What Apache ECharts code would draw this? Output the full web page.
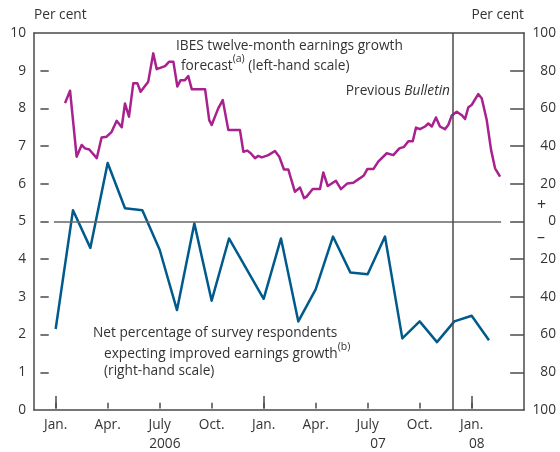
<!DOCTYPE html>
<html>
<head>
<meta charset="utf-8">
<script src="https://cdn.jsdelivr.net/npm/echarts@6/dist/echarts.min.js"></script>
<style>
  html, body { margin: 0; padding: 0; background: #fff; }
  #chart { width: 560px; height: 452px; }
</style>
</head>
<body>
<div id="chart"></div>
<script>
// x values are months counted from Jan. 2006 (0 = Jan. 2006)
const quarterTicks = [0, 3, 6, 9, 12, 15, 18, 21, 24]
const quarterLabels = ['Jan.', 'Apr.', 'July', 'Oct.', 'Jan.', 'Apr.', 'July', 'Oct.', 'Jan.']
const yearTicks = [0, 12, 24]
const yearLabelAt = [6.3, 18.6, 24.3]
const yearLabels = ['2006', '07', '08']
const leftTicks = [1, 2, 3, 4, 5, 6, 7, 8, 9]
const rightTicks = [-80, -60, -40, -20, 0, 20, 40, 60, 80]

const bulletinMonth = 22.93
const zeroLineSpan = [-0.1, 25.7]

// IBES twelve-month earnings growth forecast, per cent (left-hand scale)
const ibesMonths = [
  0.54, 0.83, 1.21, 1.5, 1.69, 1.94, 2.37, 2.65, 2.94, 3.23, 3.52, 3.81, 4.0, 4.23, 4.48, 4.71, 4.9,
  5.34, 5.63, 5.83, 6.31, 6.55, 6.79, 7.02, 7.21, 7.46, 7.65, 7.85, 8.62, 8.86, 9.0, 9.38, 9.64,
  9.96, 10.63, 10.83, 11.06, 11.25, 11.5, 11.69, 11.89, 12.27, 12.65, 12.9, 13.17, 13.42, 13.8,
  14.1, 14.33, 14.48, 14.83, 15.25, 15.44, 15.7, 16.17, 16.46, 16.83, 17.17, 17.56, 17.79, 17.98,
  18.33, 18.61, 19.1, 19.48, 19.83, 20.1, 20.35, 20.6, 20.79, 21.02, 21.31, 21.5, 21.7, 21.94,
  22.17, 22.46, 22.65, 22.85, 23.14, 23.43, 23.62, 23.81, 24.0, 24.38, 24.58, 24.87, 25.12, 25.35, 25.64
]
const ibesGrowth = [
  8.14, 8.47, 6.72, 7.03, 6.94, 6.91, 6.68, 7.23, 7.25, 7.38, 7.67, 7.5, 8.13, 7.78, 8.67, 8.67, 8.44,
  8.71, 9.46, 9.04, 9.12, 9.24, 9.24, 8.58, 8.75, 8.75, 8.86, 8.51, 8.51, 7.69, 7.56, 8.0, 8.22,
  7.43, 7.43, 6.85, 6.88, 6.81, 6.68, 6.74, 6.7, 6.76, 6.87, 6.72, 6.38, 6.38, 5.79,
  5.9, 5.62, 5.66, 5.86, 5.86, 6.3, 5.94, 6.08, 5.86, 6.01, 6.03, 6.15, 6.23, 6.39,
  6.39, 6.59, 6.81, 6.76, 6.94, 6.98, 7.13, 7.13, 7.49, 7.45, 7.52, 7.6, 7.52, 7.76,
  7.52, 7.45, 7.56, 7.81, 7.91, 7.82, 7.72, 8.03, 8.09, 8.38, 8.27, 7.69, 6.9, 6.41, 6.19
]

// Net percentage of survey respondents expecting improved earnings growth (right-hand scale)
const surveyMonths = [0, 1, 2, 3, 4, 5, 6, 7, 8, 9, 10, 12, 13, 14, 15, 16, 17, 18, 19, 20, 21, 22, 23, 24, 25]
const surveyNet = [-57, 6, -14, 31, 7, 6, -15, -47, -1, -42, -9, -41, -9, -53, -36, -8, -27, -28, -8, -62, -53, -64, -53, -50, -63]

const X_MIN = -1.25
const X_MAX = 27.02

const zip = (xs, ys) => xs.map((x, i) => [x, ys[i]])

const FONT = 'Open Sans'
const FS = 13.7
const AXIS = '#4a4a4a'
const TEXT = '#333'
const MAGENTA = '#a8218e'
const BLUE = '#005a8c'

// tick marks as short segments, lengths in axis units
// (plot is 490px for 28.27 months, 377px for 10 units / 200 units)
const seg = (a, b) => [{ coord: a }, { coord: b }]
const leftTickMarks = leftTicks.map(v => seg([X_MIN + 0.37, v], [X_MIN + 0.85, v]))
const rightTickMarks = rightTicks.map(v => seg([X_MAX - 0.8, v], [X_MAX, v]))
const quarterTickMarks = quarterTicks.map(m => seg([m, 0.04], [m, 0.19]))
const yearTickMarks = yearTicks.map(m => seg([m, 0.04], [m, 0.37]))

const chart = echarts.init(document.getElementById('chart'))

chart.setOption({
  animation: false,
  backgroundColor: '#fff',
  textStyle: { fontFamily: FONT, color: TEXT },
  grid: { left: 34, right: 36, top: 33, bottom: 42 },
  xAxis: [{
    type: 'value',
    min: X_MIN,
    max: X_MAX,
    axisLine: { onZero: false, lineStyle: { color: AXIS, width: 1.5 } },
    splitLine: { show: false },
    axisTick: { show: false },
    axisLabel: {
      customValues: quarterTicks,
      margin: 8,
      fontFamily: FONT, fontSize: FS, color: TEXT,
      formatter: v => quarterLabels[quarterTicks.indexOf(v)]
    }
  }, {
    type: 'value',
    min: X_MIN,
    max: X_MAX,
    position: 'bottom',
    axisLine: { show: false, onZero: false },
    splitLine: { show: false },
    axisTick: { show: false },
    axisLabel: {
      customValues: yearLabelAt,
      margin: 27,
      fontFamily: FONT, fontSize: FS, color: TEXT,
      formatter: v => yearLabels[yearLabelAt.indexOf(v)]
    }
  }, {
    // top frame line
    type: 'value',
    min: X_MIN,
    max: X_MAX,
    position: 'top',
    axisLine: { show: true, onZero: false, lineStyle: { color: AXIS, width: 1.5 } },
    splitLine: { show: false },
    axisTick: { show: false },
    axisLabel: { show: false }
  }],
  yAxis: [{
    type: 'value',
    min: 0, max: 10, interval: 1,
    position: 'left',
    axisLine: { show: true, onZero: false, lineStyle: { color: AXIS, width: 1.5 } },
    splitLine: { show: false },
    axisTick: { show: false },
    axisLabel: { margin: 8, fontFamily: FONT, fontSize: FS, color: TEXT }
  }, {
    type: 'value',
    min: -100, max: 100, interval: 20,
    position: 'right',
    axisLine: { show: true, onZero: false, lineStyle: { color: AXIS, width: 1.5 } },
    splitLine: { show: false },
    axisTick: { show: false },
    axisLabel: {
      margin: 32, align: 'right',
      fontFamily: FONT, fontSize: FS, color: TEXT,
      formatter: v => String(Math.abs(v))
    }
  }],
  series: [{
    name: 'IBES',
    type: 'line',
    xAxisIndex: 0,
    yAxisIndex: 0,
    data: zip(ibesMonths, ibesGrowth),
    symbol: 'none',
    lineStyle: { color: MAGENTA, width: 2.5, join: 'round' },
    z: 3,
    markLine: {
      silent: true,
      symbol: 'none',
      label: { show: false },
      lineStyle: { color: AXIS, width: 1.5, type: 'solid' },
      data: [
        [{ coord: [zeroLineSpan[0], 5], lineStyle: { color: '#666' } }, { coord: [zeroLineSpan[1], 5] }],
        ...leftTickMarks,
        ...quarterTickMarks,
        ...yearTickMarks
      ]
    }
  }, {
    name: 'Survey',
    type: 'line',
    xAxisIndex: 0,
    yAxisIndex: 1,
    data: zip(surveyMonths, surveyNet),
    symbol: 'none',
    lineStyle: { color: BLUE, width: 2.5, join: 'round' },
    z: 3,
    markLine: {
      silent: true,
      symbol: 'none',
      label: { show: false },
      lineStyle: { color: AXIS, width: 1.5, type: 'solid' },
      data: [{ xAxis: bulletinMonth }, ...rightTickMarks]
    }
  }],
  graphic: [{
    type: 'text', left: 34, top: 8,
    style: { text: 'Per cent', fontFamily: FONT, fontSize: FS, fill: TEXT }
  }, {
    type: 'text', right: 36, top: 8,
    style: { text: 'Per cent', fontFamily: FONT, fontSize: FS, fill: TEXT }
  }, {
    type: 'text', left: 176, top: 39,
    style: { text: 'IBES twelve-month earnings growth', fontFamily: FONT, fontSize: FS, fill: TEXT }
  }, {
    type: 'text', left: 181, top: 54,
    style: {
      text: '{t|forecast}{s|(a)}{t| (left-hand scale)}',
      fill: TEXT,
      rich: {
        t: { fontFamily: FONT, fontSize: FS, lineHeight: 19, verticalAlign: 'bottom' },
        s: { fontFamily: FONT, fontSize: 10.5, lineHeight: 19, verticalAlign: 'top' }
      }
    }
  }, {
    type: 'text', right: 110, top: 84,
    style: {
      text: '{t|Previous }{i|Bulletin}',
      fill: TEXT,
      rich: {
        t: { fontFamily: FONT, fontSize: FS },
        i: { fontFamily: FONT, fontSize: FS, fontStyle: 'italic' }
      }
    }
  }, {
    type: 'text', left: 93, top: 326,
    style: { text: 'Net percentage of survey respondents', fontFamily: FONT, fontSize: FS, fill: TEXT }
  }, {
    type: 'text', left: 104, top: 342,
    style: {
      text: '{t|expecting improved earnings growth}{s|(b)}',
      fill: TEXT,
      rich: {
        t: { fontFamily: FONT, fontSize: FS, lineHeight: 19, verticalAlign: 'bottom' },
        s: { fontFamily: FONT, fontSize: 10.5, lineHeight: 19, verticalAlign: 'top' }
      }
    }
  }, {
    type: 'text', left: 104, top: 364,
    style: { text: '(right-hand scale)', fontFamily: FONT, fontSize: FS, fill: TEXT }
  }, {
    type: 'text', left: 537, top: 197,
    style: { text: '+', fontFamily: FONT, fontSize: 16, fill: TEXT }
  }, {
    type: 'text', left: 537, top: 229,
    style: { text: '–', fontFamily: FONT, fontSize: 16, fill: TEXT }
  }]
})
</script>
</body>
</html>
